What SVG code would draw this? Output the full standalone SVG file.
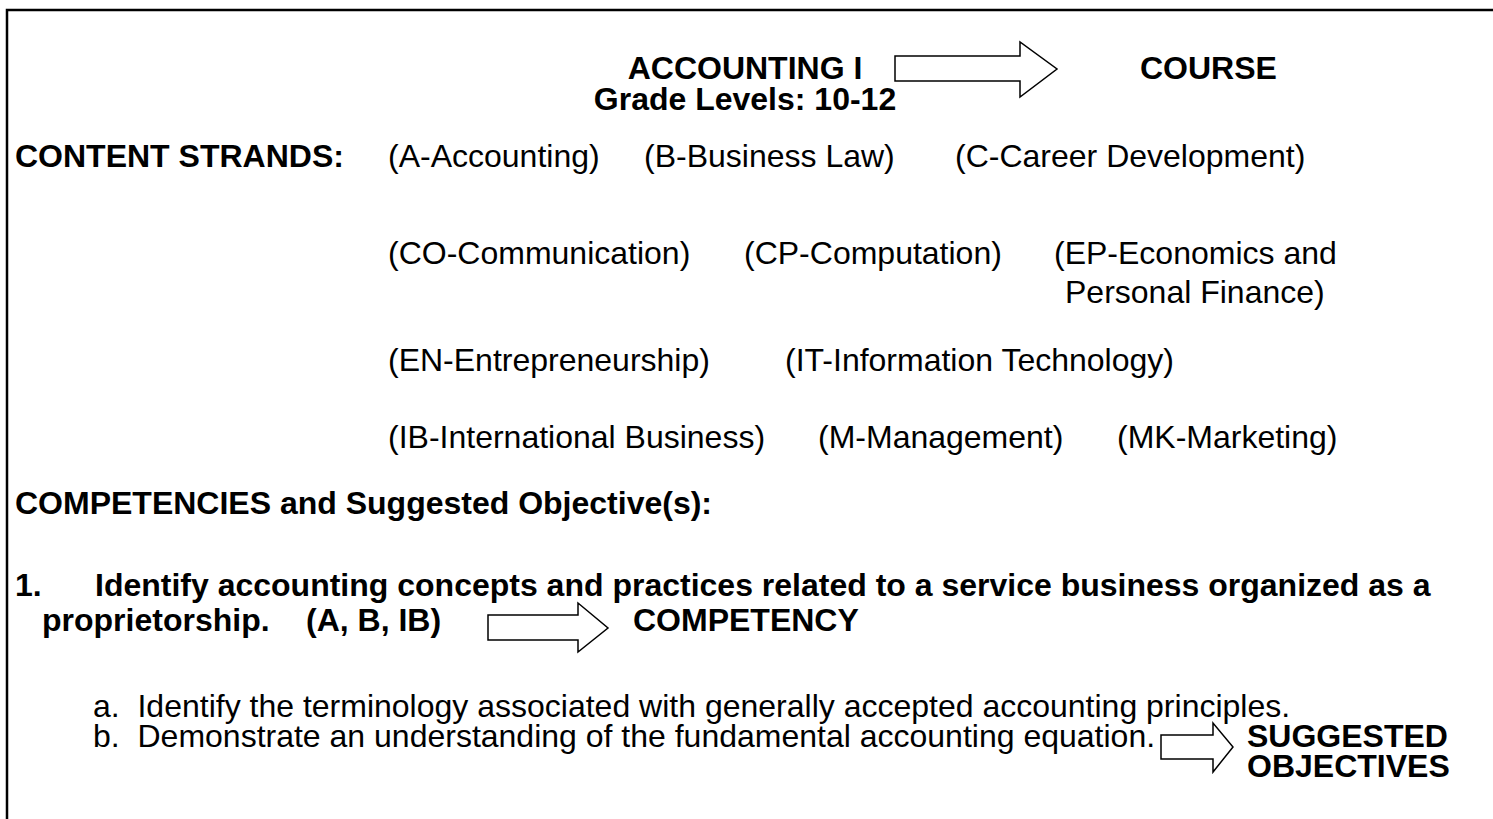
<svg xmlns="http://www.w3.org/2000/svg" width="1493" height="819" viewBox="0 0 1493 819">
<style>
text{font-family:"Liberation Sans",Arial,sans-serif;font-size:32px;fill:#000}
.b{font-weight:bold}
.arrow{fill:#fff;stroke:#000;stroke-width:1.5}
</style>
<rect x="0" y="0" width="1493" height="819" fill="#fff"/>
<g id="border" fill="none" stroke="#000" stroke-width="2.5">
<polyline points="7,819 7,10 1493,10"/>
</g>
<g id="header">
<text class="b" x="745" y="79" text-anchor="middle">ACCOUNTING I</text>
<text class="b" x="745" y="110" text-anchor="middle">Grade Levels: 10-12</text>
<text class="b" x="1140" y="79">COURSE</text>
</g>
<g id="strands">
<text class="b" x="15" y="167">CONTENT STRANDS:</text>
<text x="388" y="167">(A-Accounting)</text>
<text x="644" y="167">(B-Business Law)</text>
<text x="955" y="167">(C-Career Development)</text>
<text x="388" y="264">(CO-Communication)</text>
<text x="744" y="264">(CP-Computation)</text>
<text x="1054" y="264">(EP-Economics and</text>
<text x="1065" y="303">Personal Finance)</text>
<text x="388" y="371">(EN-Entrepreneurship)</text>
<text x="785" y="371">(IT-Information Technology)</text>
<text x="388" y="448">(IB-International Business)</text>
<text x="818" y="448">(M-Management)</text>
<text x="1117" y="448">(MK-Marketing)</text>
</g>
<g id="competencies">
<text class="b" x="15" y="596">1.</text>
<text class="b" x="95" y="596">Identify accounting concepts and practices related to a service business organized as a</text>
<text class="b" x="15" y="514">COMPETENCIES and Suggested Objective(s):</text>
<text class="b" x="42" y="631">proprietorship.</text>
<text class="b" x="306" y="631">(A, B, IB)</text>
<text class="b" x="633" y="631">COMPETENCY</text>
</g>
<g id="objectives">
<text x="93" y="717" xml:space="preserve">a.  Identify the terminology associated with generally accepted accounting principles.</text>
<text x="93" y="747" xml:space="preserve">b.  Demonstrate an understanding of the fundamental accounting equation.</text>
<text class="b" x="1247" y="747">SUGGESTED</text>
<text class="b" x="1247" y="777">OBJECTIVES</text>
</g>
<g id="connectors">
<polygon class="arrow" points="895,56 1020,56 1020,42 1057,69 1020,97 1020,81 895,81"/>
<polygon class="arrow" points="488,615 578,615 578,603 608,628 578,652 578,640 488,640"/>
<polygon class="arrow" points="1161,735 1213,735 1213,723 1233,747 1213,772 1213,759 1161,759"/>
</g>
</svg>
